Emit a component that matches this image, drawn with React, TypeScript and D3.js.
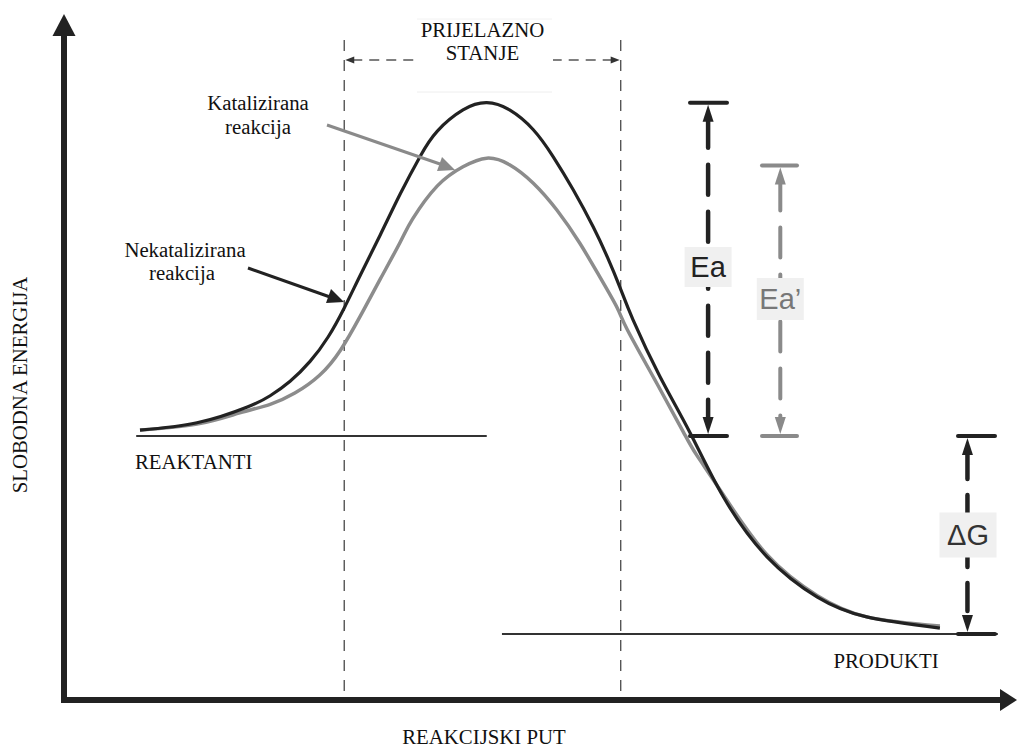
import React from "react";
import * as d3 from "d3";

// ---- data (reaction progress 0-100, free energy 0-100) ----
const uncatProgress = [8.0, 14.0, 19.3, 21.7, 23.8, 25.9, 27.8, 29.5, 31.2, 33.3, 35.4, 37.5, 39.3, 42.0, 44.5, 46.9, 49.4, 51.5, 53.6, 55.7, 57.2, 58.5, 59.9, 62.7, 65.9, 69.4, 74.0, 79.3, 84.5, 92.2];
const uncatEnergy = [40.9, 42.0, 44.4, 46.1, 48.3, 51.3, 55.0, 59.4, 64.4, 70.5, 76.7, 82.4, 86.2, 89.4, 90.5, 89.4, 86.4, 82.3, 77.3, 71.7, 67.1, 62.6, 57.6, 49.1, 40.5, 30.8, 21.7, 15.6, 12.6, 10.9];
const catProgress = [8.0, 14.0, 18.5, 21.7, 24.3, 26.9, 29.1, 31.2, 33.3, 35.4, 36.7, 39.3, 42.0, 44.5, 46.9, 49.4, 51.9, 54.3, 56.4, 58.2, 59.3, 62.2, 65.2, 66.6, 69.4, 74.0, 79.3, 84.5, 92.2];
const catEnergy = [40.9, 41.8, 43.5, 44.8, 46.5, 49.2, 53.0, 58.2, 63.8, 69.4, 72.9, 77.9, 80.8, 82.1, 81.1, 78.3, 74.2, 69.2, 64.1, 59.5, 56.1, 48.5, 40.6, 37.1, 31.1, 22.0, 15.8, 12.6, 11.2];

const reactantLevel = 40;
const productLevel = 10;
const uncatPeak = 90.5;
const catPeak = 81;
const reactantSpan = [7.6, 44.5];
const productSpan = [46.1, 98.3];
const transitionSpan = [29.5, 58.6];
const eaX = 67.8;
const eaPrimeX = 75.4;
const dgX = 95.1;

const labels = {
  yAxis: "SLOBODNA ENERGIJA",
  xAxis: "REAKCIJSKI PUT",
  transition: ["PRIJELAZNO", "STANJE"],
  catalyzed: ["Katalizirana", "reakcija"],
  uncatalyzed: ["Nekatalizirana", "reakcija"],
  reactants: "REAKTANTI",
  products: "PRODUKTI",
};

const W = 1017;
const H = 749;
const xScale = d3.scaleLinear().domain([0, 100]).range([64, 1014]);
const yScale = d3.scaleLinear().domain([0, 100]).range([700, 40]);

const SERIF = "'Liberation Serif', 'Times New Roman', serif";
const SANS = "'Liberation Sans', Arial, sans-serif";
const FS = 20.8;

const lineGen = d3
  .line<[number, number]>()
  .x((d) => xScale(d[0]))
  .y((d) => yScale(d[1]))
  .curve(d3.curveNatural);

function tri(tx: number, ty: number, dir: "up" | "down" | "left" | "right", len: number, half: number) {
  if (dir === "up") return `M${tx},${ty} L${tx - half},${ty + len} L${tx + half},${ty + len} Z`;
  if (dir === "down") return `M${tx},${ty} L${tx - half},${ty - len} L${tx + half},${ty - len} Z`;
  if (dir === "left") return `M${tx},${ty} L${tx + len},${ty - half} L${tx + len},${ty + half} Z`;
  return `M${tx},${ty} L${tx - len},${ty - half} L${tx - len},${ty + half} Z`;
}

type DimProps = {
  x: number;
  top: number;
  bottom: number;
  capL: number;
  capR: number;
  color: string;
  width: number;
  dash: string;
  label: string;
  labelColor: string;
  boxW: number;
  boxH: number;
  boxCy: number;
  boxCx: number;
};

function DimArrow(p: DimProps) {
  const head = 15;
  return (
    <g>
      <line x1={p.x} x2={p.x} y1={p.top + head} y2={p.bottom - head} stroke={p.color} strokeWidth={p.width} strokeDasharray={p.dash} strokeLinecap="round" />
      <path d={tri(p.x, p.top + 2, "up", head + 2, 5.5)} fill={p.color} />
      <path d={tri(p.x, p.bottom - 2, "down", head + 2, 5.5)} fill={p.color} />
      <line x1={p.capL} x2={p.capR} y1={p.top} y2={p.top} stroke={p.color} strokeWidth={4} strokeLinecap="round" />
      <line x1={p.capL} x2={p.capR} y1={p.bottom} y2={p.bottom} stroke={p.color} strokeWidth={4} strokeLinecap="round" />
      <rect x={p.boxCx - p.boxW / 2} y={p.boxCy - p.boxH / 2} width={p.boxW} height={p.boxH} fill="#f0f0f0" />
      <text x={p.boxCx} y={p.boxCy} textAnchor="middle" dominantBaseline="central" fontFamily={SANS} fontSize={29} fill={p.labelColor}>
        {p.label}
      </text>
    </g>
  );
}

export default function App() {
  const uncat: [number, number][] = uncatProgress.map((x, i) => [x, uncatEnergy[i]]);
  const cat: [number, number][] = catProgress.map((x, i) => [x, catEnergy[i]]);

  const xL = xScale(transitionSpan[0]);
  const xR = xScale(transitionSpan[1]);
  const yReact = yScale(reactantLevel);
  const yProd = yScale(productLevel);
  const axisX = xScale(0);
  const axisY = yScale(0);

  return (
    <svg width={W} height={H} style={{ position: "absolute", left: 0, top: 0, background: "#fff" }}>
      <rect x={0} y={0} width={W} height={H} fill="#fff" />

      {/* transition state dashed verticals */}
      <line x1={xL} x2={xL} y1={40} y2={axisY - 3} stroke="#555" strokeWidth={1.4} strokeDasharray="11,9" />
      <line x1={xR} x2={xR} y1={40} y2={axisY - 3} stroke="#555" strokeWidth={1.4} strokeDasharray="11,9" />
      {/* horizontal dashed arrow */}
      <line x1={xL + 8} x2={417} y1={60} y2={60} stroke="#555" strokeWidth={1.4} strokeDasharray="10,7" />
      <line x1={xR - 8} x2={553} y1={60} y2={60} stroke="#555" strokeWidth={1.4} strokeDasharray="10,7" />
      <path d={tri(xL + 1, 60, "left", 9, 3.5)} fill="#333" />
      <path d={tri(xR - 1, 60, "right", 9, 3.5)} fill="#333" />
      <line x1={417} x2={552} y1={92} y2={92} stroke="#eeeeee" strokeWidth={1} />
      <line x1={417} x2={552} y1={19} y2={19} stroke="#f2f2f2" strokeWidth={1} />
      <text x={(xL + xR) / 2} y={37} textAnchor="middle" fontFamily={SERIF} fontSize={FS} fill="#111">
        {labels.transition[0]}
      </text>
      <text x={(xL + xR) / 2} y={60} textAnchor="middle" fontFamily={SERIF} fontSize={FS} fill="#111">
        {labels.transition[1]}
      </text>

      {/* energy levels */}
      <line x1={xScale(reactantSpan[0])} x2={xScale(reactantSpan[1])} y1={yReact} y2={yReact} stroke="#333" strokeWidth={2} />
      <line x1={xScale(productSpan[0])} x2={xScale(productSpan[1])} y1={yProd} y2={yProd} stroke="#333" strokeWidth={2} />

      {/* curves */}
      <path d={lineGen(cat) || ""} fill="none" stroke="#8c8c8c" strokeWidth={3.5} strokeLinejoin="round" />
      <path d={lineGen(uncat) || ""} fill="none" stroke="#222" strokeWidth={3.2} strokeLinejoin="round" />

      {/* Ea, Ea', dG */}
      <DimArrow x={xScale(eaX)} top={yScale(uncatPeak)} bottom={yReact} capL={690} capR={727} color="#222" width={4.5} dash="30,17" label="Ea" labelColor="#222" boxW={47} boxH={40} boxCx={xScale(eaX)} boxCy={267} />
      <DimArrow x={xScale(eaPrimeX)} top={yScale(catPeak)} bottom={yReact} capL={762} capR={797} color="#8a8a8a" width={4} dash="30,17" label="Ea’" labelColor="#777" boxW={47} boxH={42} boxCx={xScale(eaPrimeX)} boxCy={299} />
      <DimArrow x={xScale(dgX)} top={yReact} bottom={yProd} capL={958} capR={995} color="#222" width={4.5} dash="28,16" label="ΔG" labelColor="#333" boxW={57} boxH={45} boxCx={968} boxCy={535} />

      {/* label arrows */}
      <line x1={327} y1={125} x2={440} y2={164} stroke="#8a8a8a" strokeWidth={3} />
      <path d="M455,170 L437,171 L442,157 Z" fill="#8a8a8a" />
      <line x1={248} y1={268} x2={330} y2={297} stroke="#222" strokeWidth={3} />
      <path d="M344,302 L326,303 L331,289 Z" fill="#222" />

      <text x={258} y={110} textAnchor="middle" fontFamily={SERIF} fontSize={FS} fill="#111">{labels.catalyzed[0]}</text>
      <text x={258} y={134} textAnchor="middle" fontFamily={SERIF} fontSize={FS} fill="#111">{labels.catalyzed[1]}</text>
      <text x={185} y={257} textAnchor="middle" fontFamily={SERIF} fontSize={FS} fill="#111">{labels.uncatalyzed[0]}</text>
      <text x={182} y={280} textAnchor="middle" fontFamily={SERIF} fontSize={FS} fill="#111">{labels.uncatalyzed[1]}</text>

      <text x={135} y={469} fontFamily={SERIF} fontSize={FS} fill="#111">{labels.reactants}</text>
      <text x={886} y={668} textAnchor="middle" fontFamily={SERIF} fontSize={FS} fill="#111">{labels.products}</text>

      {/* axes */}
      <line x1={axisX} x2={axisX} y1={axisY + 3} y2={34} stroke="#222" strokeWidth={6} />
      <path d={tri(axisX, 14, "up", 22, 11.5)} fill="#222" />
      <line x1={axisX - 3} x2={1000} y1={axisY} y2={axisY} stroke="#222" strokeWidth={6} />
      <path d={tri(1017, axisY, "right", 17, 11)} fill="#222" />

      <text x={484} y={744} textAnchor="middle" fontFamily={SERIF} fontSize={FS} fill="#111">{labels.xAxis}</text>
      <text transform={`translate(27,385) rotate(-90)`} textAnchor="middle" fontFamily={SERIF} fontSize={FS} fill="#111">{labels.yAxis}</text>
    </svg>
  );
}
